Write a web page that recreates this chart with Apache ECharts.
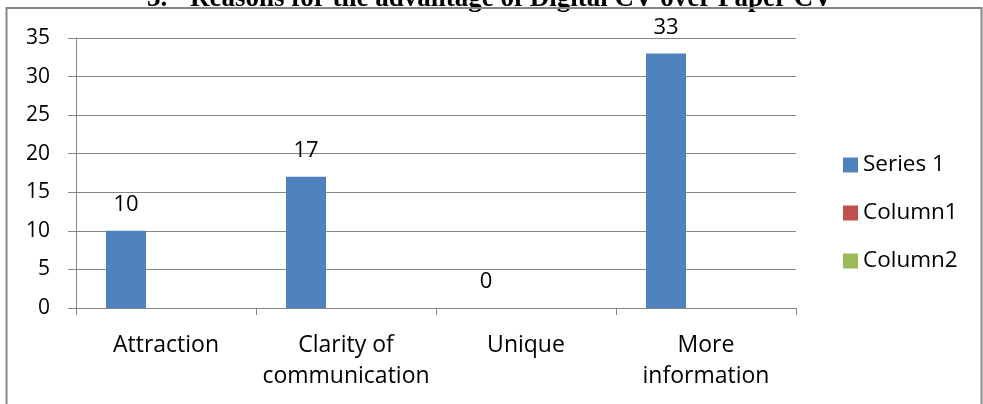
<!DOCTYPE html>
<html>
<head>
<meta charset="utf-8">
<style>
  html, body { margin: 0; padding: 0; background: #fff; }
  #chart { width: 983px; height: 404px; }
</style>
<script src="https://cdn.jsdelivr.net/npm/echarts@6/dist/echarts.min.js"></script>
</head>
<body>
<div id="chart"></div>
<script>
// Survey answers: reasons a digital CV beats a paper CV
const categories = ['Attraction', 'Clarity of\ncommunication', 'Unique', 'More\ninformation'];
const series1 = [10, 17, 0, 33];
const column1 = [];
const column2 = [];
const seriesNames = ['Series 1', 'Column1', 'Column2'];
const yTicks = { min: 0, max: 35, interval: 5 };
const headingNumber = '3.';
const headingText = 'Reasons for the advantage of Digital CV over Paper CV';

const FONT = '"Open Sans", "Noto Sans", sans-serif';
const HEADING_FONT = 'bold 27px "Liberation Serif", "DejaVu Serif", serif';
const GRID_GRAY = '#868686';

const chart = echarts.init(document.getElementById('chart'), null, { renderer: 'canvas' });

chart.setOption({
  animation: false,
  backgroundColor: '#fff',
  color: ['#4F81BD', '#C0504D', '#9BBB59'],
  graphic: [
    {
      type: 'text',
      x: 147,
      y: 13,
      style: { text: headingNumber, font: HEADING_FONT, fill: '#000', align: 'left', verticalAlign: 'bottom' },
      silent: true,
      z: 1
    },
    {
      type: 'text',
      x: 190,
      y: 13,
      style: { text: headingText, font: HEADING_FONT, fill: '#000', align: 'left', verticalAlign: 'bottom' },
      silent: true,
      z: 1
    },
    {
      // chart frame; its lower edge falls below the visible area
      type: 'rect',
      shape: { x: 6.5, y: 8, width: 975, height: 420 },
      style: { fill: 'none', stroke: GRID_GRAY, lineWidth: 2 },
      silent: true,
      z: 2
    }
  ],
  grid: {
    left: 76,
    right: 187,
    top: 38,
    bottom: 96,
    outerBoundsMode: 'none',
    containLabel: false
  },
  legend: {
    orient: 'vertical',
    left: 838,
    top: 148,
    itemWidth: 15,
    itemHeight: 15,
    itemGap: 24,
    icon: 'rect',
    data: seriesNames,
    textStyle: { fontFamily: FONT, fontSize: 22.5, lineHeight: 24, color: '#000' }
  },
  xAxis: {
    type: 'category',
    data: categories,
    axisLine: { show: true, lineStyle: { color: GRID_GRAY, width: 1 } },
    axisTick: { show: true, length: 7, lineStyle: { color: GRID_GRAY } },
    axisLabel: {
      fontFamily: FONT,
      fontSize: 23,
      color: '#000',
      margin: 22,
      lineHeight: 31,
      interval: 0
    },
    splitLine: { show: false }
  },
  yAxis: {
    type: 'value',
    min: yTicks.min,
    max: yTicks.max,
    interval: yTicks.interval,
    axisLine: { show: true, lineStyle: { color: GRID_GRAY, width: 1 } },
    axisTick: { show: true, length: 8, lineStyle: { color: GRID_GRAY } },
    axisLabel: { fontFamily: FONT, fontSize: 21, color: '#000', margin: 26 },
    splitLine: { show: true, lineStyle: { color: GRID_GRAY, width: 1 } }
  },
  series: [
    {
      name: seriesNames[0],
      type: 'bar',
      data: series1,
      barWidth: 40,
      barGap: '0%',
      label: {
        show: true,
        position: 'top',
        distance: 15,
        fontFamily: FONT,
        fontSize: 22,
        color: '#000'
      }
    },
    { name: seriesNames[1], type: 'bar', data: column1, barWidth: 40, barGap: '0%' },
    { name: seriesNames[2], type: 'bar', data: column2, barWidth: 40, barGap: '0%' }
  ]
});
</script>
</body>
</html>
